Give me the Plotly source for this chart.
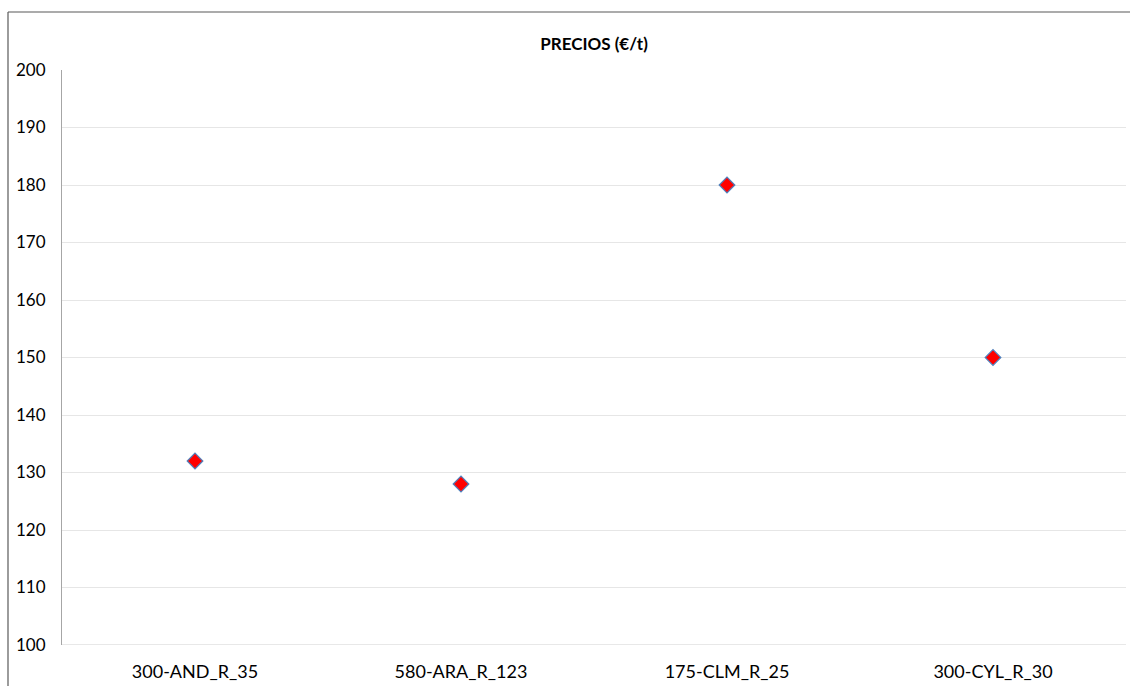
import plotly.graph_objects as go

categories = ["300-AND_R_35", "580-ARA_R_123", "175-CLM_R_25", "300-CYL_R_30"]
precios = [132, 128, 180, 150]
y_ticks = [100, 110, 120, 130, 140, 150, 160, 170, 180, 190, 200]

fig = go.Figure()
fig.add_trace(go.Scatter(
    x=categories, y=precios, mode="markers",
    marker=dict(symbol="diamond", size=12, color="#FF0000",
                line=dict(color="#4F81BD", width=1.2)),
    showlegend=False,
))

fig.update_layout(
    width=1130, height=686,
    margin=dict(l=62, r=4, t=70, b=41),
    paper_bgcolor="white", plot_bgcolor="white",
    font=dict(family="Lato, Open Sans, sans-serif", size=16, color="#000000"),
    title=dict(text="<b>PRECIOS (€/t)</b>", x=0.5, xanchor="center",
               xref="paper", y=1 - 44 / 686, yanchor="middle",
               font=dict(size=17, family="Lato, sans-serif")),
    xaxis=dict(type="category", range=[-0.5, 3.5], showgrid=False,
               showline=False, zeroline=False, ticks="",
               tickfont=dict(size=18), ticklabelstandoff=14),
    yaxis=dict(range=[100, 200], tickvals=y_ticks, showgrid=True,
               gridcolor="#E6E6E6", gridwidth=1, showline=True,
               linecolor="#A6A6A6", linewidth=1, zeroline=False, ticks="",
               tickfont=dict(size=17), ticklabelstandoff=12),
)

# bottom axis line (100 gridline, slightly darker)
fig.add_shape(type="line", xref="paper", yref="y", x0=0, x1=1, y0=100, y1=100,
              line=dict(color="#D0D0D0", width=1))
# outer chart border: only top and left edges are visible in the frame
bx0 = (8 - 62) / 1064
by1 = (645 - 12) / 575
fig.add_shape(type="line", xref="paper", yref="paper",
              x0=bx0, x1=1.01, y0=by1, y1=by1,
              line=dict(color="#595959", width=1.2), layer="below")
fig.add_shape(type="line", xref="paper", yref="paper",
              x0=bx0, x1=bx0, y0=-0.1, y1=by1,
              line=dict(color="#595959", width=1.2), layer="below")

fig.write_html("out.html", config={"displayModeBar": False},
               post_script="document.body.style.margin='0';document.body.style.overflow='hidden';")
